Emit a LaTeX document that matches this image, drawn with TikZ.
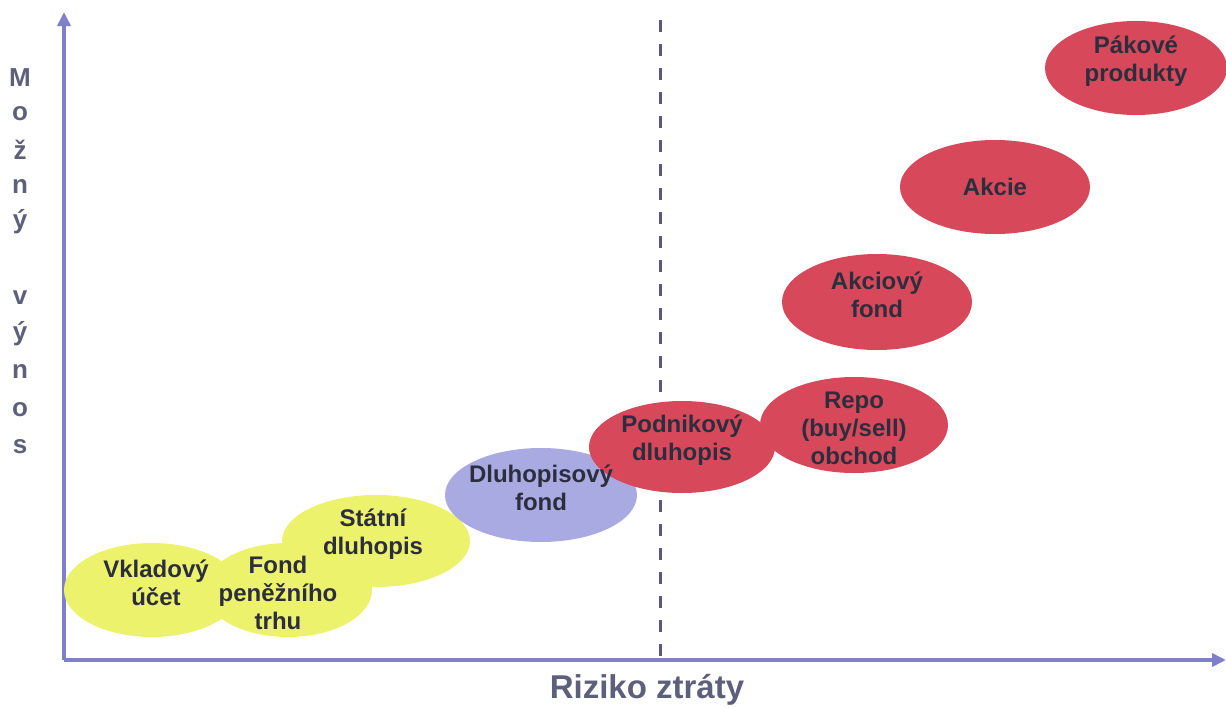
\documentclass[tikz,border=0pt]{standalone}
\usepackage{fontspec}
\setmainfont{Liberation Sans}
\usetikzlibrary{shapes.geometric, arrows.meta}
\definecolor{osa}{RGB}{128,128,202}
\definecolor{popis}{RGB}{92,96,122}
\definecolor{pismo}{RGB}{44,46,62}
\definecolor{carka}{RGB}{88,88,128}
\definecolor{zluta}{RGB}{236,242,108}
\definecolor{modra}{RGB}{170,170,226}
\definecolor{cervena}{RGB}{214,72,90}

\begin{document}
\begin{tikzpicture}[x=1pt, y=-1pt,
    font=\bfseries\fontsize{24}{28}\selectfont,
    produkt/.style={ellipse, inner sep=0pt},
    jisty/.style={produkt, fill=zluta},
    stredni/.style={produkt, fill=modra},
    rizikovy/.style={produkt, fill=cervena},
    napis/.style={align=center, text=pismo, inner sep=0pt, yshift=7pt},
    osy/.style={draw=osa, line width=4pt, -{Triangle[width=13pt,length=14pt]}}]
  %tikz  Riziko a vynos produktu
    \useasboundingbox (0,0) rectangle (1226,707);
    % osy
    \coordinate (O) at (64,660);
    \coordinate (Y) at (64,12);
    \coordinate (X) at (1226,660);
    \coordinate (H) at (660,20);
    \coordinate (D) at (660,660);
    \draw[carka, line width=3pt, dash pattern=on 12pt off 12pt] (H) -- (D);
    \draw[osy] (O) -- (Y);
    \draw[osy] (O) -- (X);
    \node[text=popis, font=\bfseries\fontsize{33}{36}\selectfont] (riziko) at (647,690) {Riziko ztráty};
    \foreach \z/\y [count=\i] in {M/78, o/114, ž/150, n/186, ý/222, v/298, ý/334, n/371, o/410, s/447}
      \node[text=popis, font=\bfseries\fontsize{26}{30}\selectfont] (vynos\i) at (20,\y) {\z};
    % produkty
    \node[jisty, minimum width=176pt, minimum height=94pt] (vklad) at (152,590) {};
    \node[jisty, minimum width=168pt, minimum height=94pt] (fond) at (288,590) {};
    \node[jisty, minimum width=188pt, minimum height=92pt] (statni) at (376,541) {};
    \node[stredni, minimum width=192pt, minimum height=94pt] (dlfond) at (541,495) {};
    \node[rizikovy, minimum width=186pt, minimum height=92pt] (podnik) at (682,447) {};
    \node[rizikovy, minimum width=188pt, minimum height=96pt] (repo) at (854,425) {};
    \node[rizikovy, minimum width=190pt, minimum height=96pt] (akfond) at (877,302) {};
    \node[rizikovy, minimum width=190pt, minimum height=94pt] (akcie) at (995,187) {};
    \node[rizikovy, minimum width=182pt, minimum height=94pt] (pakove) at (1136,68) {};
    % popisky
    \node[napis] (vkladT) at ([xshift=4pt]vklad) {Vkladový\\účet};
    \node[napis, yshift=-10pt] (fondT) at ([xshift=-10pt]fond) {Fond\\peněžního\\trhu};
    \node[napis] (statniT) at ([xshift=-3pt]statni) {Státní\\dluhopis};
    \node[napis] (dlfondT) at (dlfond) {Dluhopisový\\fond};
    \node[napis] (podnikT) at (podnik) {Podnikový\\dluhopis};
    \node[napis, yshift=-10pt] (repoT) at (repo) {Repo\\(buy/sell)\\obchod};
    \node[napis] (akfondT) at (akfond) {Akciový\\fond};
    \node[napis, yshift=-7pt] (akcieT) at (akcie) {Akcie};
    \node[napis] (pakoveT) at (pakove) {Pákové\\produkty};
  \end{tikzpicture}
\end{document}
